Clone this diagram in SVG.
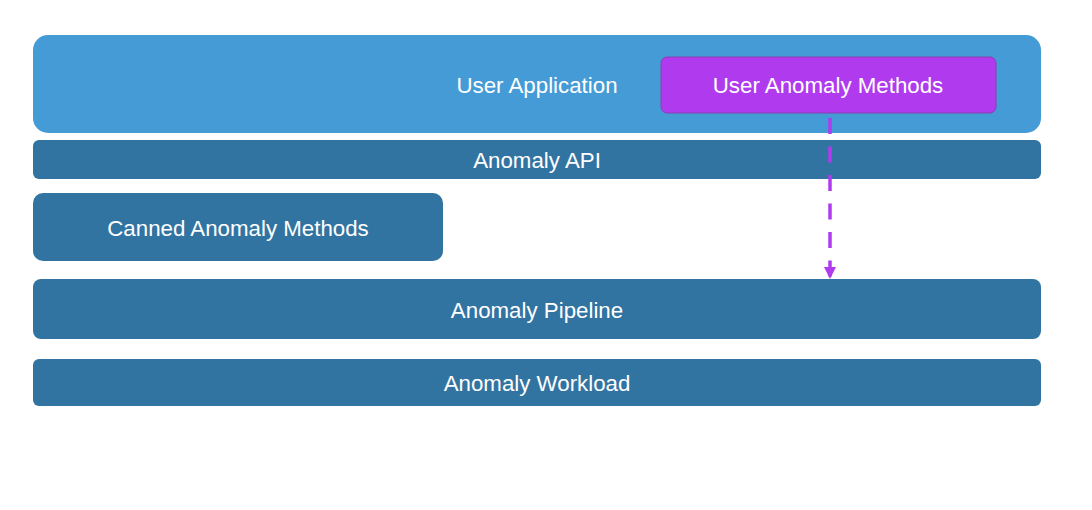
<svg xmlns="http://www.w3.org/2000/svg" width="1092" height="510" viewBox="0 0 1092 510">
<style>
.lbl{font-family:"Liberation Sans",Arial,Helvetica,sans-serif;font-size:22.3px;fill:#ffffff;text-anchor:middle;dominant-baseline:central}
.dark{fill:#3274a1}
</style>
<defs>
<marker id="ah" markerUnits="userSpaceOnUse" markerWidth="12" markerHeight="12" refX="12" refY="6" orient="auto">
<path d="M0,0 L12,6 L0,12 Z" fill="#b03bee"/>
</marker>
</defs>
<rect width="1092" height="510" fill="#ffffff"/>
<g id="user-application">
<rect x="33" y="35" width="1008" height="98" rx="15" fill="#459bd6"/>
<text class="lbl" x="537" y="85">User Application</text>
</g>
<g id="anomaly-api">
<rect class="dark" x="33" y="140" width="1008" height="39" rx="6"/>
<text class="lbl" x="537" y="160">Anomaly API</text>
</g>
<g id="canned-anomaly-methods">
<rect class="dark" x="33" y="193" width="410" height="68" rx="10"/>
<text class="lbl" x="238" y="228">Canned Anomaly Methods</text>
</g>
<g id="anomaly-pipeline">
<rect class="dark" x="33" y="279" width="1008" height="60" rx="8"/>
<text class="lbl" x="537" y="310">Anomaly Pipeline</text>
</g>
<g id="anomaly-workload">
<rect class="dark" x="33" y="359" width="1008" height="47" rx="6"/>
<text class="lbl" x="537" y="383">Anomaly Workload</text>
</g>
<g id="user-anomaly-methods">
<rect x="661" y="57" width="335" height="56" rx="6" fill="#b03bee" stroke="#8a3fb0" stroke-width="1"/>
<text class="lbl" x="828" y="85">User Anomaly Methods</text>
</g>
<g id="connectors">
<line x1="830" y1="118" x2="830" y2="279" stroke="#b03bee" stroke-width="3.5" stroke-dasharray="16 12.5" marker-end="url(#ah)"/>
</g>
</svg>
